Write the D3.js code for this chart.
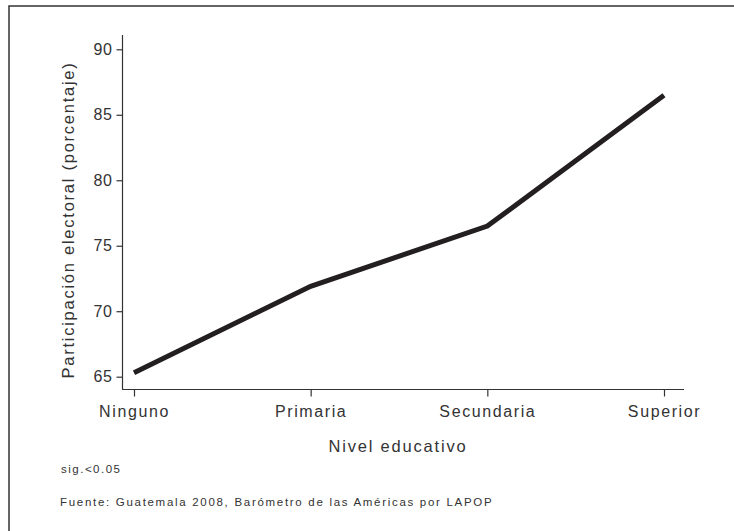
<!DOCTYPE html>
<html>
<head>
<meta charset="utf-8">
<script src="https://cdn.jsdelivr.net/npm/d3@7"></script>
<style>
  html, body { margin: 0; padding: 0; background: #fff; overflow: hidden; }
  svg { display: block; font-family: "Liberation Sans", Arial, Helvetica, sans-serif; }
</style>
</head>
<body>
<svg id="chart" width="734" height="531"></svg>
<script>
const categories = ["Ninguno", "Primaria", "Secundaria", "Superior"];
const participation = [65.3, 71.9, 76.5, 86.5];
const yTicks = [65, 70, 75, 80, 85, 90];
const xTitle = "Nivel educativo";
const yTitle = "Participación electoral (porcentaje)";
const note = "sig.<0.05";
const source = "Fuente: Guatemala 2008, Barómetro de las Américas por LAPOP";

const svg = d3.select("#chart");
const textColor = "#333";

// outer frame (only top and left edges are visible)
svg.append("path")
  .attr("d", "M9,531 L9,6 L734,6")
  .attr("fill", "none").attr("stroke", "#333").attr("stroke-width", 1.5);

const x = d3.scalePoint().domain(categories).range([134, 664]);
const y = d3.scaleLinear().domain([65, 90]).range([376.7, 49.3]);

// y axis
const yAxisG = svg.append("g").attr("transform", "translate(122.5,0)");
yAxisG.append("line")
  .attr("x1", 0).attr("x2", 0)
  .attr("y1", 35).attr("y2", 389)
  .attr("stroke", "#333").attr("stroke-width", 1.2);
yAxisG.call(d3.axisLeft(y).tickValues(yTicks).tickSize(6).tickPadding(4).tickFormat(d3.format("d")));
yAxisG.select(".domain").remove();
yAxisG.selectAll(".tick line").attr("stroke", "#333").attr("stroke-width", 1.2);
yAxisG.selectAll(".tick text")
  .attr("fill", textColor)
  .style("font-size", "16px")
  .style("letter-spacing", "0.6px")
  .style("font-family", "'Liberation Sans', Arial, sans-serif");

// x axis
const xAxisG = svg.append("g").attr("transform", "translate(0,389.5)");
xAxisG.append("line")
  .attr("x1", 122).attr("x2", 684)
  .attr("y1", 0).attr("y2", 0)
  .attr("stroke", "#333").attr("stroke-width", 1.2);
xAxisG.call(d3.axisBottom(x).tickSize(7).tickPadding(9));
xAxisG.select(".domain").remove();
xAxisG.selectAll(".tick line").attr("stroke", "#333").attr("stroke-width", 1.2);
xAxisG.selectAll(".tick text")
  .attr("fill", textColor)
  .style("font-size", "16px")
  .style("letter-spacing", "1.6px")
  .style("font-family", "'Liberation Sans', Arial, sans-serif");

// data line
const line = d3.line()
  .x((d, i) => x(categories[i]))
  .y(d => y(d));
svg.append("path")
  .datum(participation)
  .attr("d", line)
  .attr("fill", "none")
  .attr("stroke", "#231f20")
  .attr("stroke-width", 5)
  .attr("stroke-linejoin", "miter")
  .attr("stroke-linecap", "butt");

// axis titles
svg.append("text")
  .attr("x", 398).attr("y", 452)
  .attr("text-anchor", "middle")
  .attr("fill", textColor)
  .style("font-size", "16.5px")
  .style("letter-spacing", "1.8px")
  .text(xTitle);

svg.append("text")
  .attr("transform", "translate(74,220) rotate(-90)")
  .attr("text-anchor", "middle")
  .attr("fill", textColor)
  .style("font-size", "16.5px")
  .style("letter-spacing", "1.75px")
  .text(yTitle);

// notes
svg.append("text")
  .attr("x", 61).attr("y", 473)
  .attr("fill", textColor)
  .style("font-size", "11.5px")
  .style("letter-spacing", "1.5px")
  .text(note);

svg.append("text")
  .attr("x", 60).attr("y", 506)
  .attr("fill", textColor)
  .style("font-size", "11.5px")
  .style("letter-spacing", "1.7px")
  .text(source);
</script>
</body>
</html>
